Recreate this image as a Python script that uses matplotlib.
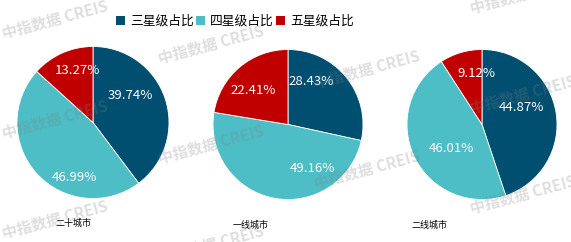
import matplotlib
matplotlib.use("Agg")
import matplotlib.pyplot as plt
from matplotlib.patches import Patch

plt.rcParams['font.family'] = ['Noto Sans CJK SC', 'DejaVu Sans']

# ---- data ----
series = ['三星级占比', '四星级占比', '五星级占比']
cities = ['二十城市', '一线城市', '二线城市']
three_star = [39.74, 28.43, 44.87]
four_star = [46.99, 49.16, 46.01]
five_star = [13.27, 22.41, 9.12]

# ---- style / layout ----
colors = ['#004F71', '#4DBDC6', '#C00000']
W, H = 571, 242
centers = [(93, 122.5), (288, 124.5), (482, 124.5)]   # pixel centers
radii = [76, 75, 75]
# label offsets (in units of radius) for each wedge
label_offsets = [
    [(0.49, 0.36), (-0.24, -0.72), (-0.20, 0.68)],
    [(0.31, 0.57), (0.32, -0.59), (-0.47, 0.45)],
    [(0.53, 0.23), (-0.41, -0.32), (-0.08, 0.68)],
]
city_label_pos = [(73, 223), (251, 225), (429, 225)]

fig = plt.figure(figsize=(W / 100, H / 100), dpi=100)
fig.patch.set_facecolor('white')

for i in range(3):
    cx, cy = centers[i]
    r = radii[i]
    ax = fig.add_axes([(cx - r) / W, 1 - (cy + r) / H, 2 * r / W, 2 * r / H])
    vals = [three_star[i], four_star[i], five_star[i]]
    wedges, texts, autotexts = ax.pie(
        vals, colors=colors, startangle=90, counterclock=False,
        autopct=lambda p: f'{p:.2f}%', radius=1.0,
        wedgeprops=dict(linewidth=0.6, edgecolor='white'),
        textprops=dict(color='white', fontsize=9.5))
    for t, v, off in zip(autotexts, vals, label_offsets[i]):
        t.set_text(f'{v:.2f}%')
        t.set_position(off)
        t.set_ha('center')
        t.set_va('center')
    ax.set_xlim(-1, 1)
    ax.set_ylim(-1, 1)
    ax.set_aspect('equal')
    ax.axis('off')

for name, (x, y) in zip(cities, city_label_pos):
    fig.text(x / W, 1 - y / H, name, ha='center', va='center',
             fontsize=6.5, color='#000000')

handles = [Patch(facecolor=c, edgecolor='none') for c in colors]
fig.legend(handles, series, loc='center', bbox_to_anchor=(235 / W, 1 - 21 / H),
           ncol=3, frameon=False, fontsize=9.2, handlelength=0.7,
           handleheight=0.7, handletextpad=0.4, columnspacing=0.15,
           borderpad=0, borderaxespad=0)

# watermark
for col in range(4):
    x = 55 + 156 * col
    for k in range(-1, 3):
        y = 20 + 25 * col + 100 * k
        if -20 < y < 260:
            fig.text(x / W, 1 - y / H, '中指数据 CREIS', ha='center', va='center',
                     rotation=15, fontsize=11, fontweight='bold',
                     color='#808080', alpha=0.26, zorder=10)

fig.savefig('out.png', dpi=100, facecolor='white')
